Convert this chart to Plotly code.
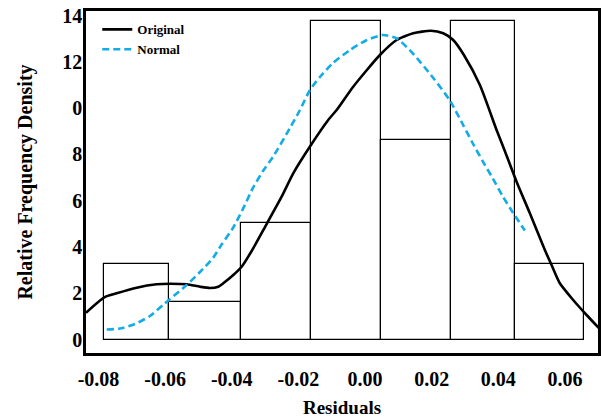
import plotly.graph_objects as go

# ---- data ----
bin_edges = [-0.07826, -0.05875, -0.03715, -0.01623, 0.00492, 0.02587, 0.04507, 0.06578]
bin_heights = [3.25, 1.62, 5.02, 13.76, 8.63, 13.76, 3.26]

orig_x = [-0.08375, -0.07826, -0.07454, -0.06854, -0.06254, -0.05854, -0.05353, -0.04954,
          -0.04654, -0.04405, -0.04255, -0.03955, -0.03703, -0.03394, -0.02953, -0.02503,
          -0.02155, -0.01623, -0.01104, -0.00852, -0.00354, 0.00447, 0.00948, 0.01446,
          0.01977, 0.02347, 0.02647, 0.02968, 0.03448, 0.03949, 0.04147, 0.04549, 0.04948,
          0.05398, 0.05599, 0.05848, 0.06248, 0.06650, 0.07028]
orig_y = [1.158, 1.824, 1.997, 2.239, 2.385, 2.411, 2.385, 2.282,
          2.226, 2.282, 2.429, 2.787, 3.146, 3.846, 4.991, 6.171,
          7.182, 8.405, 9.486, 9.918, 10.925, 12.295, 12.943, 13.233,
          13.345, 13.233, 12.943, 12.295, 10.998, 9.053, 8.332, 6.819, 5.454,
          3.868, 3.220, 2.429, 1.707, 1.059, 0.484]

norm_x = [-0.07754, -0.07355, -0.06905, -0.06455, -0.06065, -0.05854, -0.05353, -0.04954,
          -0.04564, -0.04294, -0.03964, -0.03694, -0.03364, -0.03064, -0.02764, -0.02253,
          -0.01953, -0.01653, -0.01353, -0.00963, -0.00453, 0.00057, 0.00537, 0.00957,
          0.01437, 0.02037, 0.02547, 0.02937, 0.03237, 0.03537, 0.03837, 0.04137, 0.04437,
          0.04797]
norm_y = [0.432, 0.475, 0.670, 1.016, 1.491, 1.750, 2.355, 2.917,
          3.522, 4.127, 4.819, 5.554, 6.548, 7.282, 7.887, 9.140,
          9.918, 10.782, 11.344, 11.949, 12.511, 12.943, 13.159, 13.008,
          12.360, 11.322, 10.328, 9.291, 8.470, 7.692, 6.957, 6.179, 5.488,
          4.710]

x_tickvals = [-0.08, -0.06, -0.04, -0.02, 0.0, 0.02, 0.04, 0.06]
x_ticktext = ["-0.08", "-0.06", "-0.04", "-0.02", "0.00", "0.02", "0.04", "0.06"]
y_tickvals = [0, 2, 4, 6, 8, 10, 12, 14]
y_ticktext = ["0", "2", "4", "6", "8", "0", "12", "14"]

FONT = "Liberation Serif"

centers = [(a + b) / 2 for a, b in zip(bin_edges[:-1], bin_edges[1:])]
widths = [b - a for a, b in zip(bin_edges[:-1], bin_edges[1:])]

fig = go.Figure()
fig.add_trace(go.Bar(
    x=centers, y=bin_heights, width=widths,
    marker=dict(color="rgba(255,255,255,0)", line=dict(color="black", width=1.2)),
    showlegend=False, hoverinfo="skip",
))
fig.add_trace(go.Scatter(
    x=orig_x, y=orig_y, mode="lines", name="Original",
    line=dict(color="black", width=2.6, shape="spline", smoothing=0.6),
))
fig.add_trace(go.Scatter(
    x=norm_x, y=norm_y, mode="lines", name="Normal",
    line=dict(color="#12ACE6", width=2.6, dash="7px,4px", shape="spline", smoothing=0.6),
))

fig.update_layout(
    width=601, height=418,
    margin=dict(l=86, r=3, t=11, b=65),
    paper_bgcolor="white", plot_bgcolor="white",
    font=dict(family=FONT, color="black", weight="bold"),
    bargap=0,
    legend=dict(
        x=0.022, y=0.99, xanchor="left", yanchor="top",
        bgcolor="rgba(0,0,0,0)", borderwidth=0,
        font=dict(family=FONT, size=13, color="black", weight="bold"),
        tracegroupgap=0,
    ),
    xaxis=dict(
        range=[-0.08375, 0.06993],
        tickvals=x_tickvals, ticktext=x_ticktext,
        tickfont=dict(family=FONT, size=20, color="black", weight="bold"),
        ticks="", ticklabelstandoff=6,
        showgrid=False, zeroline=False, automargin=False,
        showline=True, linecolor="black", linewidth=2.5, mirror=True,
        title=dict(text="Residuals", standoff=12,
                   font=dict(family=FONT, size=19, color="black", weight="bold")),
    ),
    yaxis=dict(
        range=[-0.583, 14.196],
        tickvals=y_tickvals, ticktext=y_ticktext,
        tickfont=dict(family=FONT, size=20, color="black", weight="bold"),
        ticks="", ticklabelstandoff=-3,
        showgrid=False, zeroline=False, automargin=False,
        showline=True, linecolor="black", linewidth=2.5, mirror=True,
        title=dict(text="Relative Frequency Density", standoff=25,
                   font=dict(family=FONT, size=20, color="black", weight="bold")),
    ),
)

fig.write_html(
    "out.html",
    config={"displayModeBar": False},
    post_script="document.body.style.margin='0';document.body.style.padding='0';",
)
